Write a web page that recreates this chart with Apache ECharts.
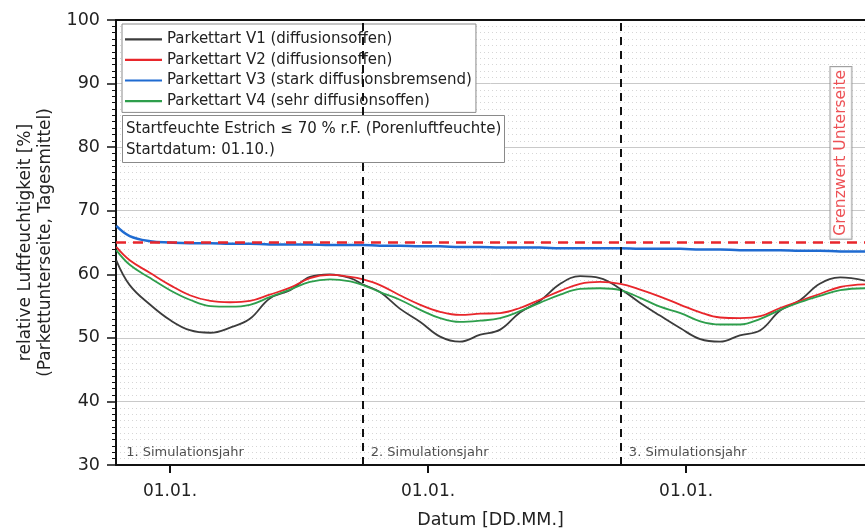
<!DOCTYPE html>
<html>
<head>
<meta charset="utf-8">
<script src="https://cdn.jsdelivr.net/npm/echarts@6/dist/echarts.min.js"></script>
<style>
  html, body { margin: 0; padding: 0; background: #fff; }
  #chart { width: 865px; height: 529px; }
</style>
</head>
<body>
<div id="chart"></div>
<script>
// Tage ab Startdatum 01.10. (Jahr 1)
const days = [16, 35, 64, 92, 120, 149, 177, 205, 233, 262, 290, 318, 347, 365, 389, 417, 446, 474, 502, 531,
  559, 587, 615, 644, 672, 700, 729, 757, 785, 814, 842, 870, 898, 927, 955, 983, 1011, 1040, 1075];

const v1 = [62.2, 58.3, 55.2, 52.8, 51.2, 50.8, 51.6, 53.0, 56.2, 57.5, 59.6, 60.0, 59.4, 58.4, 57.2, 54.6, 52.5, 50.2, 49.4, 50.5,
  51.3, 54.0, 55.8, 58.5, 59.7, 59.4, 57.7, 55.5, 53.5, 51.5, 49.8, 49.4, 50.4, 51.2, 54.3, 55.9, 58.5, 59.5, 59.0];
const v2 = [64.3, 62.2, 60.2, 58.3, 56.7, 55.8, 55.6, 55.8, 56.8, 57.9, 59.4, 59.9, 59.6, 59.2, 58.3, 56.7, 55.2, 54.1, 53.6, 53.8,
  53.9, 54.7, 56.0, 57.4, 58.5, 58.8, 58.5, 57.6, 56.5, 55.2, 54.0, 53.2, 53.1, 53.4, 54.7, 55.8, 56.9, 58.0, 58.4];
const v3 = [67.6, 66.0, 65.2, 65.0, 64.9, 64.9, 64.8, 64.8, 64.7, 64.7, 64.7, 64.6, 64.6, 64.6, 64.5, 64.5, 64.4, 64.4, 64.3, 64.3,
  64.2, 64.2, 64.2, 64.1, 64.1, 64.1, 64.1, 64.0, 64.0, 64.0, 63.9, 63.9, 63.8, 63.8, 63.8, 63.7, 63.7, 63.6, 63.6];
const v4 = [63.8, 61.5, 59.4, 57.5, 56.0, 55.0, 54.9, 55.2, 56.4, 57.6, 58.8, 59.2, 58.9, 58.3, 57.2, 56.0, 54.4, 53.1, 52.5, 52.7,
  53.1, 54.2, 55.5, 56.8, 57.7, 57.8, 57.5, 56.3, 54.9, 53.9, 52.6, 52.1, 52.1, 53.0, 54.4, 55.6, 56.6, 57.5, 57.8];

const seriesNames = [
  'Parkettart V1 (diffusionsoffen)',
  'Parkettart V2 (diffusionsoffen)',
  'Parkettart V3 (stark diffusionsbremsend)',
  'Parkettart V4 (sehr diffusionsoffen)'
];
const seriesColors = ['#3c3c3c', '#e8262b', '#1f6bd1', '#2e9e4c'];

const janFirst = [92, 457, 822];          // 01.01. ticks
const yearStart = [365, 730];             // 01.10. Jahreswechsel Simulation
const grenzwert = 65;
const yearLabels = ['1. Simulationsjahr', '2. Simulationsjahr', '3. Simulationsjahr'];
const yearLabelDays = [30, 376, 741];

const font = 'DejaVu Sans, sans-serif';

function zip(xs, ys) {
  return xs.map((x, i) => [x, ys[i]]);
}

const chart = echarts.init(document.getElementById('chart'));

const lines = [v1, v2, v3, v4].map((vals, i) => ({
  name: seriesNames[i],
  type: 'line',
  data: zip(days, vals),
  smooth: 0.4,
  showSymbol: false,
  symbol: 'none',
  silent: true,
  z: i === 2 ? 4 : 3,
  lineStyle: { color: seriesColors[i], width: i === 2 ? 2.5 : 1.8 },
  itemStyle: { color: seriesColors[i] }
}));

lines[0].markLine = {
  silent: true,
  symbol: 'none',
  label: { show: false },
  animation: false,
  data: [
    { yAxis: grenzwert, lineStyle: { color: '#e8262b', type: [10, 7], width: 2.5 } },
    ...yearStart.map(d => ({ xAxis: d, lineStyle: { color: '#111', type: [8, 6], width: 2 } }))
  ]
};

const option = {
  animation: false,
  textStyle: { fontFamily: font },
  grid: { left: 116, right: 0, top: 20, bottom: 64, outerBoundsMode: 'none' },
  legend: {
    data: seriesNames.map((n, i) => ({ name: n, icon: 'rect', itemStyle: { color: seriesColors[i] } })),
    orient: 'vertical',
    left: 122,
    top: 24,
    itemWidth: 37,
    itemHeight: 2.2,
    itemGap: 0,
    padding: [5, 4, 1, 3],
    backgroundColor: '#fff',
    borderColor: '#8a8a8a',
    borderWidth: 1,
    textStyle: { fontSize: 15, color: '#222', fontFamily: font, lineHeight: 20.6 }
  },
  title: {
    text: 'Startfeuchte Estrich ≤ 70 % r.F. (Porenluftfeuchte)\nStartdatum: 01.10.)',
    left: 122,
    top: 115,
    padding: [4, 3, 2, 4],
    backgroundColor: '#fff',
    borderColor: '#8a8a8a',
    borderWidth: 1,
    textStyle: { fontSize: 15, fontWeight: 'normal', color: '#222', lineHeight: 21, fontFamily: font }
  },
  xAxis: [{
    type: 'value',
    min: 15.6,
    max: 1075,
    name: 'Datum [DD.MM.]',
    nameLocation: 'middle',
    nameGap: 46,
    nameTextStyle: { fontSize: 17.5, color: '#222' },
    axisLine: { show: true, onZero: false, lineStyle: { color: '#111', width: 2 } },
    axisTick: { show: true, customValues: janFirst, length: 8, lineStyle: { color: '#111', width: 2 } },
    axisLabel: { customValues: janFirst, formatter: () => '01.01.', fontSize: 17, color: '#222', margin: 18 },
    splitLine: { show: false }
  }, {
    type: 'value',
    position: 'top',
    min: 15.6,
    max: 1075,
    axisLine: { show: true, lineStyle: { color: '#111', width: 2 } },
    axisTick: { show: false },
    axisLabel: { show: false },
    splitLine: { show: false }
  }],
  yAxis: {
    type: 'value',
    min: 30,
    max: 100,
    interval: 10,
    name: 'relative Luftfeuchtigkeit [%]\n(Parkettunterseite, Tagesmittel)',
    nameLocation: 'middle',
    nameGap: 52,
    nameTextStyle: { fontSize: 17, color: '#222', lineHeight: 20 },
    axisLine: { show: true, onZero: false, lineStyle: { color: '#111', width: 2 } },
    axisTick: { show: true, length: 9, lineStyle: { color: '#111', width: 1.5 } },
    minorTick: { show: true, splitNumber: 10, length: 4, lineStyle: { color: '#111', width: 1 } },
    axisLabel: { fontSize: 17.5, color: '#222', margin: 16 },
    splitLine: { show: true, lineStyle: { color: '#c9c9c9', width: 1 } },
    minorSplitLine: { show: true, lineStyle: { color: '#d6d6d6', width: 1, type: [1, 3] } }
  },
  series: [
    ...lines,
    {
      type: 'scatter',
      silent: true,
      symbolSize: 0,
      z: 5,
      data: yearLabelDays.map((d, i) => ({ value: [d, 31.9], name: yearLabels[i] })),
      label: {
        show: true,
        position: 'right',
        distance: 0,
        formatter: p => p.name,
        fontSize: 13,
        color: '#222'
      }
    },
    {
      type: 'scatter',
      silent: true,
      symbolSize: 0,
      z: 5,
      data: [{ value: [1041, 79.1], name: 'Grenzwert Unterseite' }],
      label: {
        show: true,
        position: 'inside',
        rotate: 90,
        formatter: p => p.name,
        fontSize: 15.5,
        color: '#e8262b',
        backgroundColor: '#fff',
        borderColor: '#8a8a8a',
        borderWidth: 1,
        padding: [3, 3, 2, 3]
      }
    }
  ]
};

chart.setOption(option);
</script>
</body>
</html>
